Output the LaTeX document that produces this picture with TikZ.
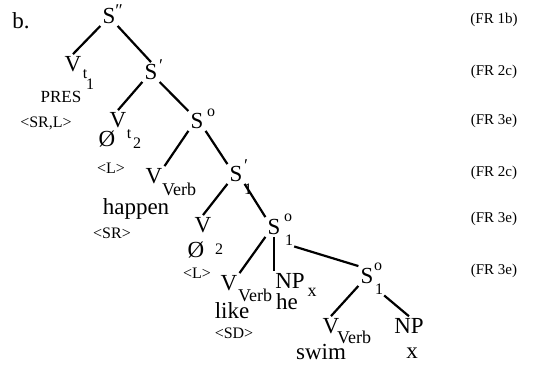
\documentclass[tikz,border=0pt]{standalone}
\usepackage{fontspec}
\setmainfont{Liberation Serif}
\newcommand\fsz[1]{\fontsize{#1}{#1}\selectfont}
\begin{document}
\begin{tikzpicture}[x=1pt, y=-1pt,
		cat/.style={font=\fsz{23}, inner sep=2pt},
		word/.style={font=\fsz{23}, inner sep=1pt},
		sub/.style={font=\fsz{18}, inner sep=1pt},
		idx/.style={font=\fsz{16}, inner sep=1pt},
		feat/.style={font=\fsz{16}, inner sep=1pt},
		rule/.style={font=\fsz{15}, inner sep=1pt},
		branch/.style={line width=2.2pt}]
		\useasboundingbox (0,0) rectangle (543,366);
		\node [word] (lbl) at (21,21) {b.};
		% categories
		\node [cat] (Spp) at (109,16) {S};
		\node [sub] (Sppm) at (119,11) {″};
		\node [cat] (Vt1) at (73,64) {V};
		\node [idx] (Vt1t) at (85,74) {t};
		\node [idx] (Vt1n) at (90,84) {1};
		\node [cat] (Sp) at (151,72) {S};
		\node [sub] (Spm) at (161,66) {′};
		\node [cat] (Vt2) at (118,120) {V};
		\node [idx] (Vt2t) at (129,134) {t};
		\node [idx] (Vt2n) at (137,143) {2};
		\node [cat] (So) at (197,121) {S};
		\node [idx] (Soo) at (211,113) {o};
		\node [cat] (Vv1) at (154,176) {V};
		\node [sub] (Vv1s) at (179,189) {Verb};
		\node [cat] (Sp1) at (236,174) {S};
		\node [sub] (Sp1m) at (246,166) {′};
		\node [idx] (Sp1b) at (248,189) {1};
		\node [cat] (V2) at (203,225) {V};
		\node [cat] (So1) at (274,227) {S};
		\node [idx] (So1o) at (288,218) {o};
		\node [idx] (So1b) at (289,240) {1};
		\node [cat] (Vv2) at (229,283) {V};
		\node [sub] (Vv2s) at (255,295) {Verb};
		\node [cat] (NPx) at (290,281) {NP};
		\node [sub] (NPxs) at (312,292) {x};
		\node [cat] (So2) at (367,276) {S};
		\node [idx] (So2o) at (378,267) {o};
		\node [idx] (So2b) at (379,289) {1};
		\node [cat] (Vv3) at (331,326) {V};
		\node [sub] (Vv3s) at (354,337) {Verb};
		\node [cat] (NP) at (409,326) {NP};
		% leaves and features
		\node [feat, font=\fsz{17}] (pres) at (61,97) {PRES};
		\node [feat] (srl) at (46,123) {<SR,L>};
		\node [word] (null1) at (107,139) {Ø};
		\node [feat] (l1) at (111,168) {<L>};
		\node [word] (happen) at (136,209) {happen};
		\node [feat] (sr) at (112,233) {<SR>};
		\node [word] (null2) at (196,250) {Ø};
		\node [idx] (null2n) at (219,249) {2};
		\node [feat] (l2) at (197,273) {<L>};
		\node [word] (he) at (287,302) {he};
		\node [word] (like) at (232,311) {like};
		\node [feat] (sd) at (234,333) {<SD>};
		\node [word] (swim) at (321,352) {swim};
		\node [word] (x) at (412,353) {x};
		% rules
		\node [rule] (fr1) at (494,20) {(FR 1b)};
		\node [rule] (fr2) at (494,72) {(FR 2c)};
		\node [rule] (fr3) at (494,121) {(FR 3e)};
		\node [rule] (fr4) at (494,173) {(FR 2c)};
		\node [rule] (fr5) at (494,219) {(FR 3e)};
		\node [rule] (fr6) at (494,271) {(FR 3e)};
		% branches
		\draw [branch] (Spp.south west) -- (Vt1.north);
		\draw [branch] (Spp.south east) -- (Sp.north);
		\draw [branch] (Sp.south west) -- (Vt2.north);
		\draw [branch] (Sp.south east) -- (So.north west);
		\draw [branch] (So.south west) -- (Vv1.north east);
		\draw [branch] (So.south east) -- (Sp1.north west);
		\draw [branch] (Sp1.south west) -- (V2.north);
		\draw [branch] (Sp1.south east) -- (So1.north west);
		\draw [branch] (So1.south west) -- (Vv2.north east);
		\draw [branch] (So1.south) -- (So1.south |- NPx.north);
		\draw [branch] (So1b.south east) -- (So2.north west);
		\draw [branch] (So2.south west) -- (Vv3.north);
		\draw [branch] (So2b.south east) -- (NP.north);
	\end{tikzpicture}
\end{document}
